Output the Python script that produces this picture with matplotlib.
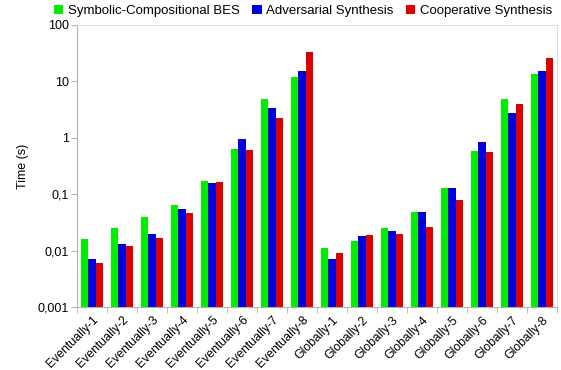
import matplotlib.pyplot as plt
import numpy as np

plt.rcParams['font.family'] = ['Liberation Sans', 'DejaVu Sans']

# benchmark instances
cases = ['Eventually-1', 'Eventually-2', 'Eventually-3', 'Eventually-4',
         'Eventually-5', 'Eventually-6', 'Eventually-7', 'Eventually-8',
         'Globally-1', 'Globally-2', 'Globally-3', 'Globally-4',
         'Globally-5', 'Globally-6', 'Globally-7', 'Globally-8']

# running times in seconds
bes_times = [0.016, 0.025, 0.040, 0.064, 0.174, 0.63, 4.9, 12.0,
             0.011, 0.015, 0.025, 0.048, 0.13, 0.59, 4.9, 13.7]
adversarial_times = [0.007, 0.013, 0.020, 0.055, 0.156, 0.95, 3.4, 15.3,
                     0.007, 0.018, 0.022, 0.048, 0.13, 0.85, 2.75, 15.3]
cooperative_times = [0.006, 0.012, 0.017, 0.046, 0.164, 0.61, 2.2, 32.8,
                     0.009, 0.019, 0.020, 0.026, 0.08, 0.55, 3.9, 25.7]

series = [
    ('Symbolic-Compositional BES', bes_times, '#00ee00'),
    ('Adversarial Synthesis', adversarial_times, '#0000dd'),
    ('Cooperative Synthesis', cooperative_times, '#dd0000'),
]

fig = plt.figure(figsize=(5.61, 3.70), dpi=100)
ax = fig.add_axes([77 / 561, 1 - 307 / 370, (557 - 77) / 561, (307 - 25) / 370])

x = np.arange(len(cases))
width = 0.25
for i, (label, vals, color) in enumerate(series):
    ax.bar(x + (i - 1) * width, vals, width, color=color,
           label=label, zorder=2)

ax.set_yscale('log')
ax.set_ylim(0.001, 100)
ax.set_xlim(-0.5, len(cases) - 0.5)
yticks = [0.001, 0.01, 0.1, 1, 10, 100]
ax.set_yticks(yticks)
ax.set_yticklabels(['0,001', '0,01', '0,1', '1', '10', '100'])
ax.minorticks_off()

ax.set_xticks(x)
ax.set_xticklabels(cases, rotation=45, ha='right', rotation_mode='anchor')
ax.tick_params(axis='x', length=0, pad=5, labelsize=8.8)
# group separators as tick marks on the bottom axis
ax.set_xticks(np.arange(-0.5, len(cases)), minor=True)
ax.tick_params(axis='x', which='minor', length=4, color='#b3b3b3')
ax.tick_params(axis='y', length=4, color='#b3b3b3', labelsize=9, pad=2)

for side in ['left', 'bottom']:
    ax.spines[side].set_color('#b3b3b3')
for side in ['top', 'right']:
    ax.spines[side].set_color('#dddddd')

ax.set_ylabel('Time (s)', fontsize=9, labelpad=6)

handles, labels = ax.get_legend_handles_labels()
fig.legend(handles, labels, loc='center', bbox_to_anchor=(0.54, 1 - 11 / 370),
           ncol=3, frameon=False, fontsize=9.5, handlelength=0.75,
           handleheight=0.75, handletextpad=0.35, columnspacing=0.9,
           borderaxespad=0, borderpad=0)

fig.savefig('out.png', dpi=100, facecolor='white')
